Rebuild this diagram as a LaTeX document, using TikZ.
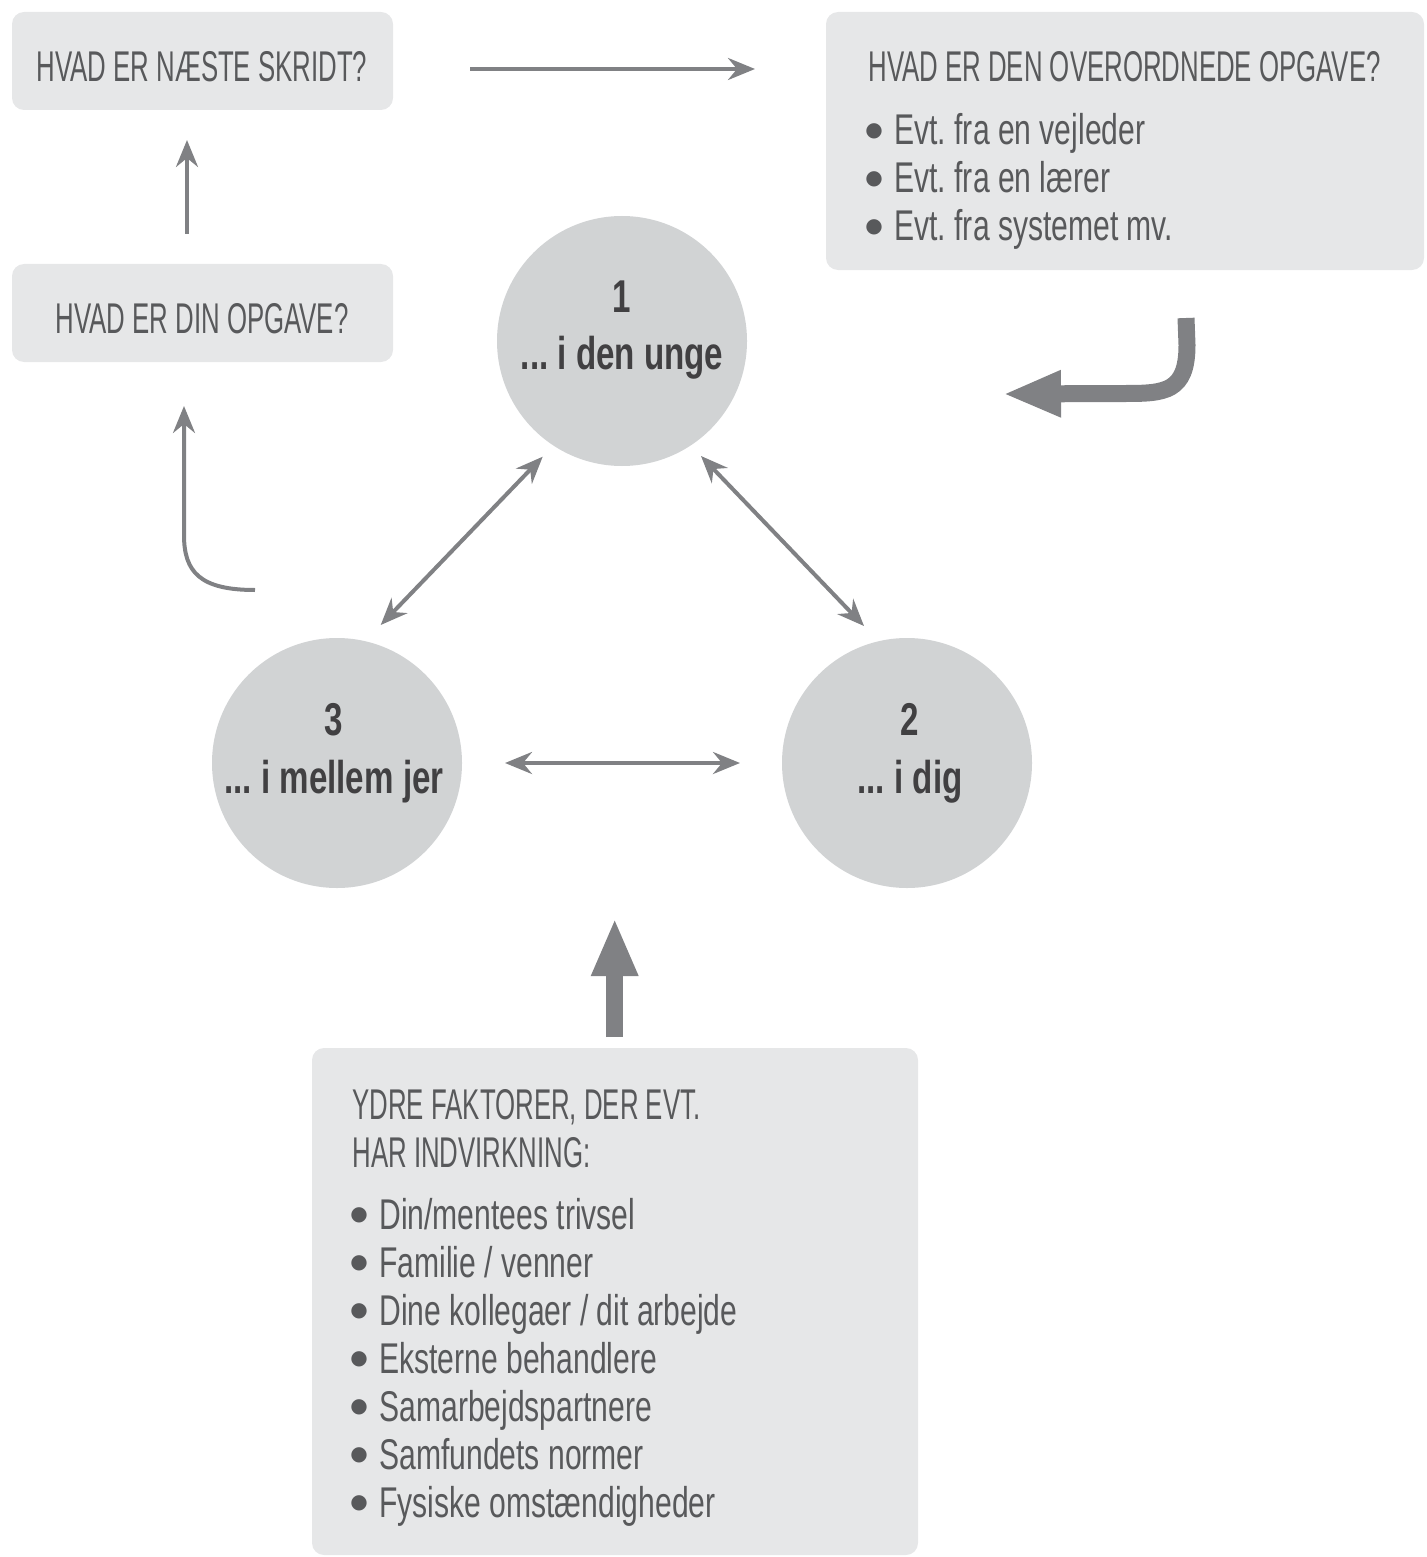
\documentclass[tikz,border=0pt]{standalone}
\usepackage{fontspec}
\setmainfont{Liberation Sans}[FakeStretch=0.70]
\newfontfamily\capsf{Liberation Sans}[FakeStretch=0.60]
\newfontfamily\circf{Liberation Sans}[FakeStretch=0.72]
\newfontfamily\dejavu{DejaVu Sans}
\usetikzlibrary{arrows.meta}
\definecolor{boxfill}{HTML}{E6E7E8}
\definecolor{circfill}{HTML}{D1D3D4}
\definecolor{arrowc}{HTML}{808184}
\definecolor{txt}{HTML}{58595B}
\definecolor{ctxt}{HTML}{414042}
\newcommand\bul{\makebox[14.5pt][l]{\raisebox{4.2pt}{\dejavu\fontsize{10}{11}\selectfont ●}}}
\begin{document}
\frenchspacing
\begin{tikzpicture}[x=0.5pt,y=-0.5pt,
  boxst/.style={fill=boxfill, draw=none, rounded corners=6pt, inner sep=0pt},
  circst/.style={circle, fill=circfill, draw=none, minimum size=125pt, inner sep=0pt},
  capst/.style={text=txt, font=\capsf\fontsize{21.5}{24}\selectfont, inner sep=0pt},
  itemst/.style={text=txt, font=\frenchspacing\fontsize{21.5}{24}\selectfont, inner sep=0pt, anchor=base west},
  circtxt/.style={text=ctxt, font=\circf\bfseries\fontsize{23}{27}\selectfont, inner sep=0pt, anchor=base},
  thinarr/.style={draw=arrowc, line width=2pt, -{Stealth[length=13.5pt,width=11pt,inset=4.5pt]}},
  dblarr/.style={draw=arrowc, line width=2pt, {Stealth[length=13.5pt,width=11pt,inset=4.5pt]}-{Stealth[length=13.5pt,width=11pt,inset=4.5pt]}},
  bigarr/.style={draw=arrowc, line width=8.5pt, -{Triangle[length=29pt,width=21.5pt]}}
]
\useasboundingbox (0,0) rectangle (1426,1557);

% boxes
\node[boxst, minimum width=190.5pt, minimum height=49pt] (boxA) at (202.5,61) {};
\node[boxst, minimum width=190.5pt, minimum height=49pt] (boxB) at (202.5,313) {};
\node[boxst, minimum width=299pt, minimum height=129pt] (boxC) at (1125,141) {};
\node[boxst, minimum width=303pt, minimum height=253.5pt] (boxD) at (615,1301.5) {};

% circles
\node[circst] (c1) at (622,341) {};
\node[circst] (c3) at (337,763) {};
\node[circst] (c2) at (907,763) {};

% box texts
\node[capst, anchor=base] (tA) at (202,82) {HVAD ER NÆSTE SKRIDT?};
\node[capst, anchor=base] (tB) at (202,333) {HVAD ER DIN OPGAVE?};
\node[capst, anchor=base west] (tC) at (868,82) {HVAD ER DEN OVERORDNEDE OPGAVE?};
\node[itemst] (tC1) at (865,145) {\bul Evt. fra en vejleder};
\node[itemst] (tC2) at (865,193) {\bul Evt. fra en lærer};
\node[itemst] (tC3) at (865,241) {\bul Evt. fra systemet mv.};

\node[capst, anchor=base west] (tD1) at (352,1119) {YDRE FAKTORER, DER EVT.};
\node[capst, anchor=base west] (tD2) at (352,1167) {HAR INDVIRKNING:};
\foreach [count=\i] \t in {Din/mentees trivsel, Familie / venner, Dine kollegaer / dit arbejde, Eksterne behandlere, Samarbejdspartnere, Samfundets normer, Fysiske omstændigheder}
  \node[itemst] (d\i) at (350,{1229+48*(\i-1)}) {\bul\t};

% circle texts
\node[circtxt] (n1) at (622,313) {1};
\node[circtxt] (l1) at (622,369) {... i den unge};
\node[circtxt] (n3) at (334,735) {3};
\node[circtxt] (l3) at (334,793) {... i mellem jer};
\node[circtxt] (n2) at (910,735) {2};
\node[circtxt] (l2) at (910,793) {... i dig};

% connector end points
\coordinate (aAs) at (470,69);
\coordinate (aAe) at (755,69);
\coordinate (aBs) at (187,234);
\coordinate (aBe) at (187,140);
\coordinate (cvs) at (255,590);
\coordinate (cve) at (184,406);
\coordinate (d13a) at (542.7,456.7);
\coordinate (d13b) at (380.7,625);
\coordinate (d12a) at (701,456);
\coordinate (d12b) at (864,626);
\coordinate (d32a) at (505,763);
\coordinate (d32b) at (740,763);
\coordinate (bgs) at (1186,318);
\coordinate (bge) at (1003,394);
\coordinate (ups) at (614.7,1037);
\coordinate (upe) at (614.7,918);

% connectors
\draw[thinarr] (aAs) -- (aAe);
\draw[thinarr] (aBs) -- (aBe);
\draw[thinarr] (cvs) .. controls (200,590) and (184,572) .. (184,535) -- (cve);
\draw[dblarr] (d13b) -- (d13a);
\draw[dblarr] (d12a) -- (d12b);
\draw[dblarr] (d32a) -- (d32b);
\draw[bigarr] (bgs) -- (1187,345) .. controls (1187,392) and (1165,393.5) .. (1125,393.5) -- (bge);
\draw[bigarr] (ups) -- (upe);
\end{tikzpicture}
\end{document}
